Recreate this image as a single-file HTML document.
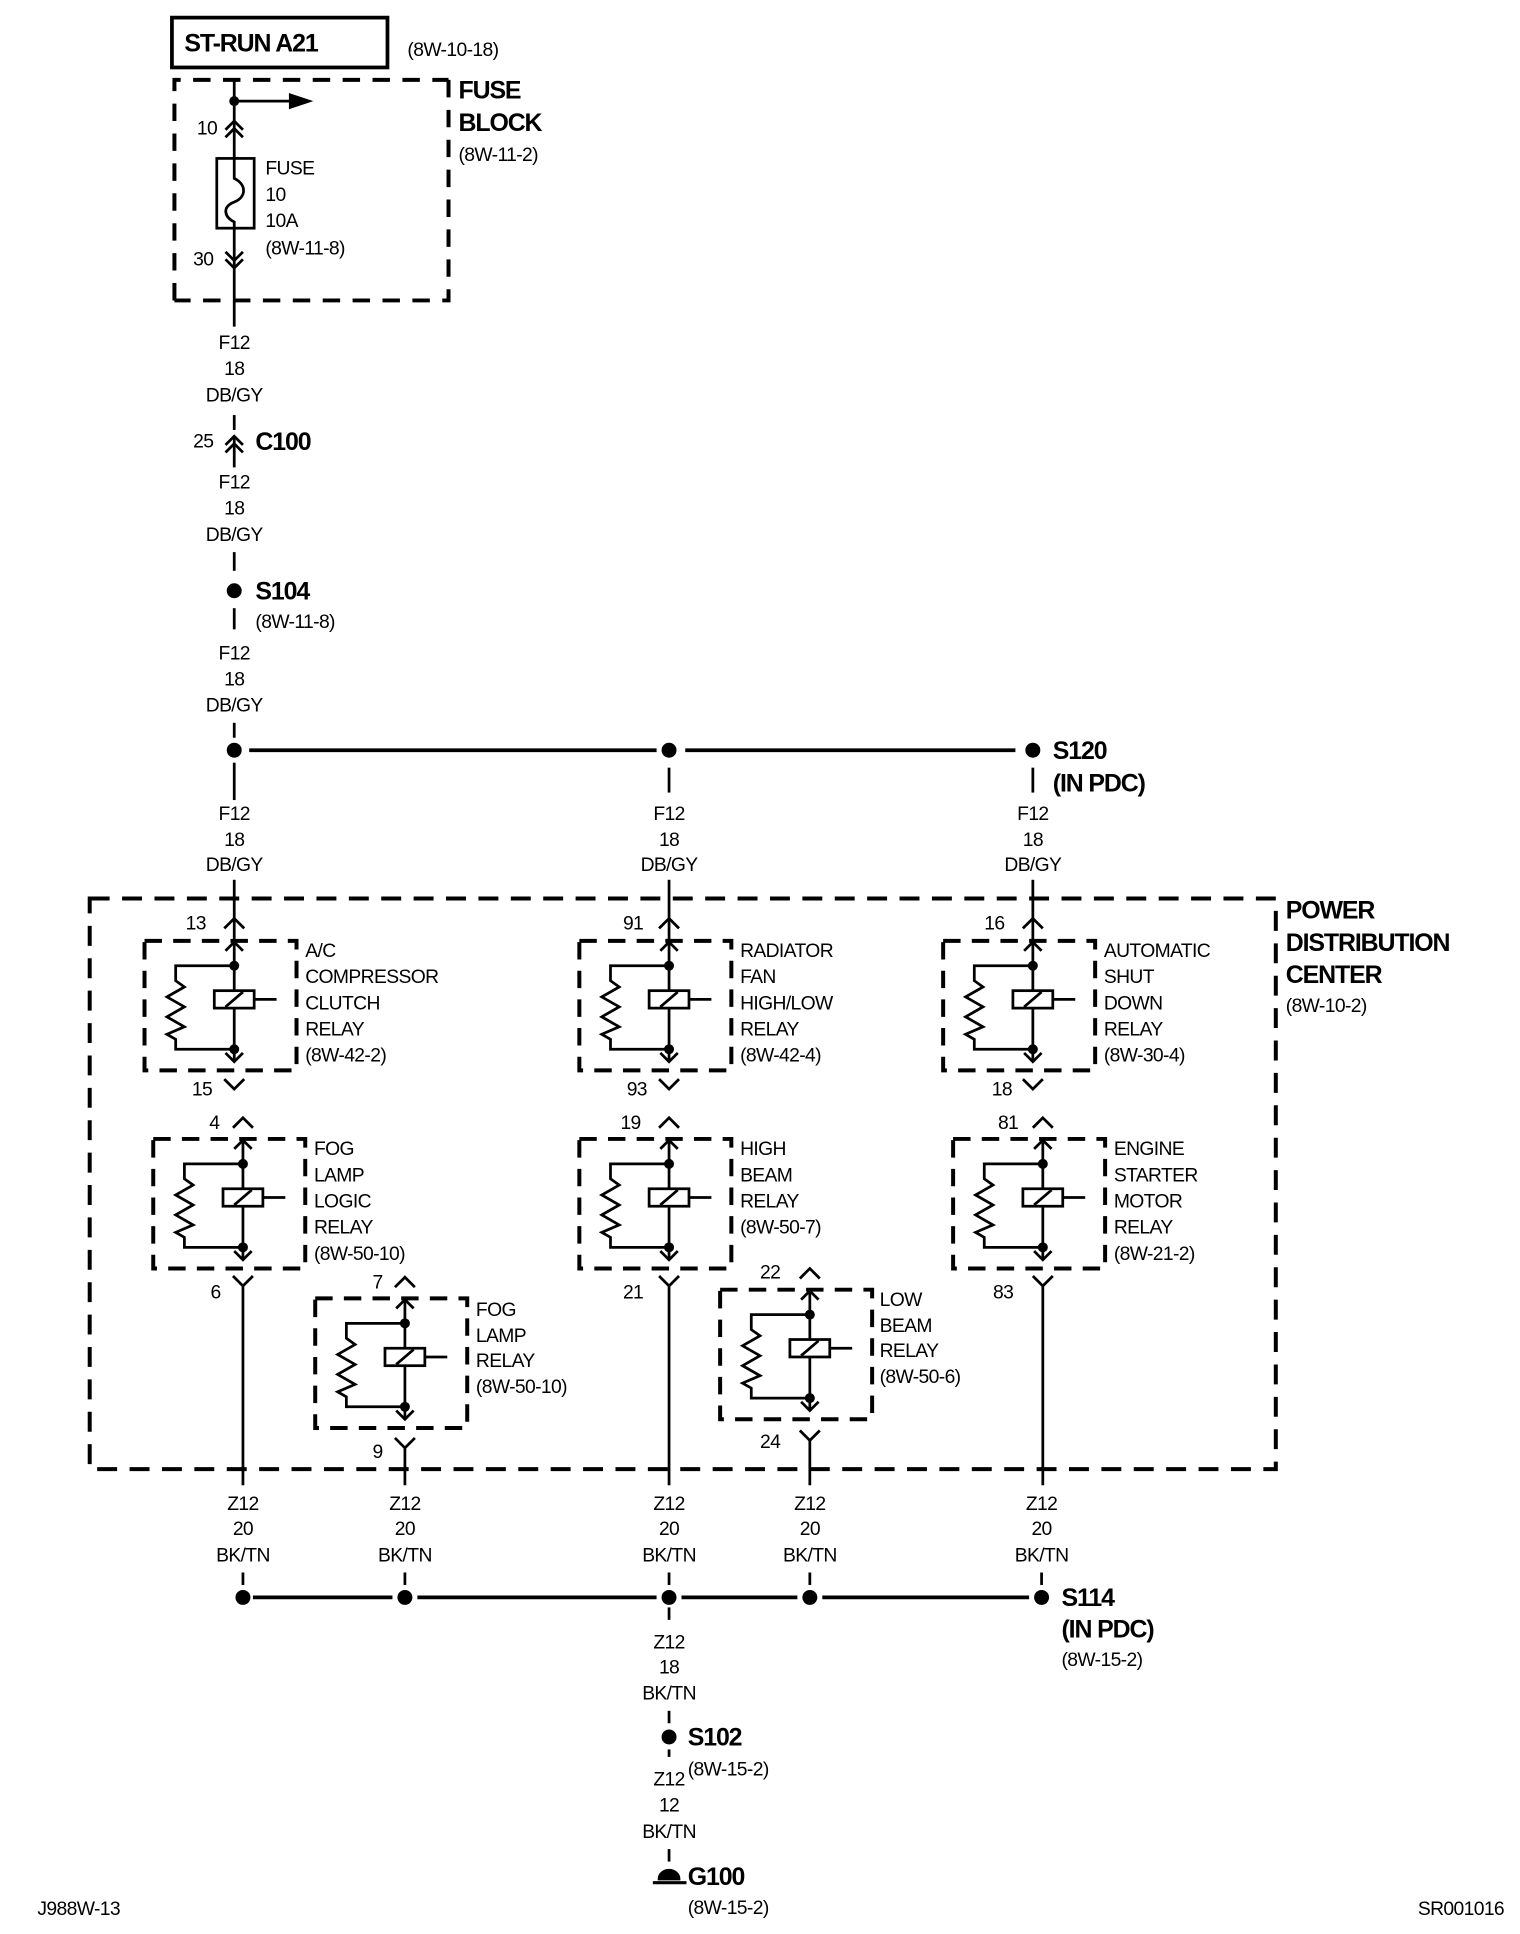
<!DOCTYPE html>
<html><head><meta charset="utf-8"><style>
html,body{margin:0;padding:0;background:#fff;}
svg{display:block;}
text{font-family:"Liberation Sans",Arial,sans-serif;font-size:15.5px;fill:#000;letter-spacing:-0.5px;}
.b{font-weight:bold;font-size:20px;letter-spacing:-0.9px;}
.c{text-anchor:middle;}
</style></head><body>
<svg width="1520" height="1934" viewBox="0 0 1220 1552" xmlns="http://www.w3.org/2000/svg">
<defs>
<g id="relay" fill="none" stroke="#000" stroke-width="2.2">
  <rect x="-72" y="0" width="122" height="104" stroke-width="3.2" stroke-dasharray="14,9"/>
  <line x1="0" y1="1" x2="0" y2="97"/>
  <path d="M-7,8 L0,1 L7,8"/>
  <path d="M-7,90 L0,97 L7,90"/>
  <path d="M0,20 H-47 V32 L-40,37 L-54,45 L-40,53 L-54,61 L-40,69 L-54,75 L-47,79 V87 H0"/>
  <rect x="-16" y="40" width="32" height="14" fill="#fff"/>
  <line x1="-7" y1="53" x2="7" y2="41"/>
  <line x1="16" y1="47" x2="34" y2="47"/>
  <circle cx="0" cy="20" r="4" fill="#000" stroke="none"/>
  <circle cx="0" cy="87" r="4" fill="#000" stroke="none"/>
</g>
</defs>

<g fill="none" stroke="#000" stroke-width="2.2">
  <rect x="138" y="14" width="173" height="40" stroke-width="3"/>
  <path d="M140,241 V64 H360 M360,64 V241 H140" stroke-width="3.2" stroke-dasharray="14,10"/>
  <line x1="188" y1="64" x2="188" y2="262"/>
  <line x1="188" y1="81" x2="235" y2="81"/>
  <path d="M233,76 L248,81 L233,86 Z" fill="#000"/>
  <path d="M181,104 L188,97 L195,104 M181,110 L188,103 L195,110"/>
  <rect x="174" y="127" width="30" height="56" fill="#fff"/>
  <path d="M188,127 V143 C198,148 198,158 188,162 C178,166 180,174 188,178 V183"/>
  <path d="M181,202 L188,209 L195,202 M181,208 L188,215 L195,208"/>
  <line x1="188" y1="333" x2="188" y2="345"/>
  <path d="M181,357 L188,350 L195,357 M181,363 L188,356 L195,363"/>
  <line x1="188" y1="350" x2="188" y2="375"/>
  <line x1="188" y1="443" x2="188" y2="458"/>
  <line x1="188" y1="488" x2="188" y2="505"/>
  <line x1="188" y1="580" x2="188" y2="592"/>
  <line x1="200" y1="602" x2="527" y2="602" stroke-width="3"/>
  <line x1="550" y1="602" x2="815" y2="602" stroke-width="3"/>
  <line x1="188" y1="612" x2="188" y2="642"/>
  <line x1="537" y1="616" x2="537" y2="636"/>
  <line x1="829" y1="616" x2="829" y2="636"/>
  <line x1="188" y1="706" x2="188" y2="755"/>
  <line x1="537" y1="706" x2="537" y2="755"/>
  <line x1="829" y1="706" x2="829" y2="755"/>
  <rect x="72" y="721" width="952" height="458" stroke-width="3.2" stroke-dasharray="16,10"/>
  <path d="M180,745 L188,737 L196,745 M529,745 L537,737 L545,745 M821,745 L829,737 L837,745"/>
  <path d="M180,866 L188,874 L196,866 M529,866 L537,874 L545,866 M821,866 L829,874 L837,866"/>
  <path d="M187,905 L195,897 L203,905 M529,905 L537,897 L545,905 M829,905 L837,897 L845,905"/>
  <path d="M317,1033 L325,1025 L333,1033 M642,1026 L650,1018 L658,1026"/>
  <path d="M187,1024 L195,1032 L203,1024 M195,1032 V1192"/>
  <path d="M529,1024 L537,1032 L545,1024 M537,1032 V1192"/>
  <path d="M829,1024 L837,1032 L845,1024 M837,1032 V1192"/>
  <path d="M317,1154 L325,1162 L333,1154 M325,1162 V1192"/>
  <path d="M642,1148 L650,1156 L658,1148 M650,1156 V1192"/>
  <line x1="195" y1="1262" x2="195" y2="1272"/>
  <line x1="325" y1="1262" x2="325" y2="1272"/>
  <line x1="537" y1="1262" x2="537" y2="1272"/>
  <line x1="650" y1="1262" x2="650" y2="1272"/>
  <line x1="836" y1="1262" x2="836" y2="1272"/>
  <line x1="203" y1="1282" x2="315" y2="1282" stroke-width="3"/>
  <line x1="335" y1="1282" x2="527" y2="1282" stroke-width="3"/>
  <line x1="547" y1="1282" x2="640" y2="1282" stroke-width="3"/>
  <line x1="660" y1="1282" x2="826" y2="1282" stroke-width="3"/>
  <line x1="537" y1="1290" x2="537" y2="1300"/>
  <line x1="537" y1="1373" x2="537" y2="1383"/>
  <line x1="537" y1="1404" x2="537" y2="1410"/>
  <line x1="537" y1="1484" x2="537" y2="1494"/>
  <path d="M529,1508 A8,7 0 0 1 545,1508 Z" fill="#000"/>
  <line x1="524" y1="1511" x2="551" y2="1511" stroke-width="2.5"/>
</g>
<g fill="#000">
  <circle cx="188" cy="81" r="4"/>
  <circle cx="188" cy="474" r="6"/>
  <circle cx="188" cy="602" r="6"/>
  <circle cx="537" cy="602" r="6"/>
  <circle cx="829" cy="602" r="6"/>
  <circle cx="195" cy="1282" r="6"/>
  <circle cx="325" cy="1282" r="6"/>
  <circle cx="537" cy="1282" r="6"/>
  <circle cx="650" cy="1282" r="6"/>
  <circle cx="836" cy="1282" r="6"/>
  <circle cx="537" cy="1394" r="6"/>
</g>
<use href="#relay" transform="translate(188,755)"/>
<use href="#relay" transform="translate(537,755)"/>
<use href="#relay" transform="translate(829,755)"/>
<use href="#relay" transform="translate(195,914)"/>
<use href="#relay" transform="translate(537,914)"/>
<use href="#relay" transform="translate(837,914)"/>
<use href="#relay" transform="translate(325,1042)"/>
<use href="#relay" transform="translate(650,1035)"/>

<text class="b" x="148" y="41">ST-RUN A21</text>
<text x="327" y="45">(8W-10-18)</text>
<text class="b" x="368" y="79">FUSE</text>
<text class="b" x="368" y="105">BLOCK</text>
<text x="368" y="129">(8W-11-2)</text>
<text x="158" y="108">10</text>
<text x="213" y="140">FUSE</text>
<text x="213" y="161">10</text>
<text x="213" y="182">10A</text>
<text x="213" y="204">(8W-11-8)</text>
<text x="155" y="213">30</text>
<text class="c" x="188" y="280">F12</text><text class="c" x="188" y="301">18</text><text class="c" x="188" y="322">DB/GY</text>
<text class="c" x="188" y="392">F12</text><text class="c" x="188" y="413">18</text><text class="c" x="188" y="434">DB/GY</text>
<text class="c" x="188" y="529">F12</text><text class="c" x="188" y="550">18</text><text class="c" x="188" y="571">DB/GY</text>
<text class="c" x="188" y="658">F12</text><text class="c" x="188" y="679">18</text><text class="c" x="188" y="699">DB/GY</text>
<text class="c" x="537" y="658">F12</text><text class="c" x="537" y="679">18</text><text class="c" x="537" y="699">DB/GY</text>
<text class="c" x="829" y="658">F12</text><text class="c" x="829" y="679">18</text><text class="c" x="829" y="699">DB/GY</text>
<text x="155" y="359">25</text>
<text class="b" x="205" y="361">C100</text>
<text class="b" x="205" y="481">S104</text>
<text x="205" y="504">(8W-11-8)</text>
<text class="b" x="845" y="609">S120</text>
<text class="b" x="845" y="635">(IN PDC)</text>
<text class="b" x="1032" y="737">POWER</text>
<text class="b" x="1032" y="763">DISTRIBUTION</text>
<text class="b" x="1032" y="789">CENTER</text>
<text x="1032" y="812">(8W-10-2)</text>

<text x="149" y="746">13</text><text x="154" y="879">15</text>
<text x="245" y="768">A/C</text><text x="245" y="789">COMPRESSOR</text><text x="245" y="810">CLUTCH</text><text x="245" y="831">RELAY</text><text x="245" y="852">(8W-42-2)</text>
<text x="500" y="746">91</text><text x="503" y="879">93</text>
<text x="594" y="768">RADIATOR</text><text x="594" y="789">FAN</text><text x="594" y="810">HIGH/LOW</text><text x="594" y="831">RELAY</text><text x="594" y="852">(8W-42-4)</text>
<text x="790" y="746">16</text><text x="796" y="879">18</text>
<text x="886" y="768">AUTOMATIC</text><text x="886" y="789">SHUT</text><text x="886" y="810">DOWN</text><text x="886" y="831">RELAY</text><text x="886" y="852">(8W-30-4)</text>

<text x="168" y="906">4</text><text x="169" y="1042">6</text>
<text x="252" y="927">FOG</text><text x="252" y="948">LAMP</text><text x="252" y="969">LOGIC</text><text x="252" y="990">RELAY</text><text x="252" y="1011">(8W-50-10)</text>
<text x="498" y="906">19</text><text x="500" y="1042">21</text>
<text x="594" y="927">HIGH</text><text x="594" y="948">BEAM</text><text x="594" y="969">RELAY</text><text x="594" y="990">(8W-50-7)</text>
<text x="801" y="906">81</text><text x="797" y="1042">83</text>
<text x="894" y="927">ENGINE</text><text x="894" y="948">STARTER</text><text x="894" y="969">MOTOR</text><text x="894" y="990">RELAY</text><text x="894" y="1011">(8W-21-2)</text>
<text x="299" y="1034">7</text><text x="299" y="1170">9</text>
<text x="382" y="1056">FOG</text><text x="382" y="1077">LAMP</text><text x="382" y="1097">RELAY</text><text x="382" y="1118">(8W-50-10)</text>
<text x="610" y="1026">22</text><text x="610" y="1162">24</text>
<text x="706" y="1048">LOW</text><text x="706" y="1069">BEAM</text><text x="706" y="1089">RELAY</text><text x="706" y="1110">(8W-50-6)</text>

<text class="c" x="195" y="1212">Z12</text><text class="c" x="195" y="1232">20</text><text class="c" x="195" y="1253">BK/TN</text>
<text class="c" x="325" y="1212">Z12</text><text class="c" x="325" y="1232">20</text><text class="c" x="325" y="1253">BK/TN</text>
<text class="c" x="537" y="1212">Z12</text><text class="c" x="537" y="1232">20</text><text class="c" x="537" y="1253">BK/TN</text>
<text class="c" x="650" y="1212">Z12</text><text class="c" x="650" y="1232">20</text><text class="c" x="650" y="1253">BK/TN</text>
<text class="c" x="836" y="1212">Z12</text><text class="c" x="836" y="1232">20</text><text class="c" x="836" y="1253">BK/TN</text>
<text class="c" x="537" y="1323">Z12</text><text class="c" x="537" y="1343">18</text><text class="c" x="537" y="1364">BK/TN</text>
<text class="c" x="537" y="1433">Z12</text><text class="c" x="537" y="1454">12</text><text class="c" x="537" y="1475">BK/TN</text>
<text class="b" x="852" y="1289">S114</text>
<text class="b" x="852" y="1314">(IN PDC)</text>
<text x="852" y="1337">(8W-15-2)</text>
<text class="b" x="552" y="1401">S102</text>
<text x="552" y="1425">(8W-15-2)</text>
<text class="b" x="552" y="1513">G100</text>
<text x="552" y="1536">(8W-15-2)</text>
<text x="30" y="1537">J988W-13</text>
<text x="1138" y="1537">SR001016</text>
</svg>
</body></html>
